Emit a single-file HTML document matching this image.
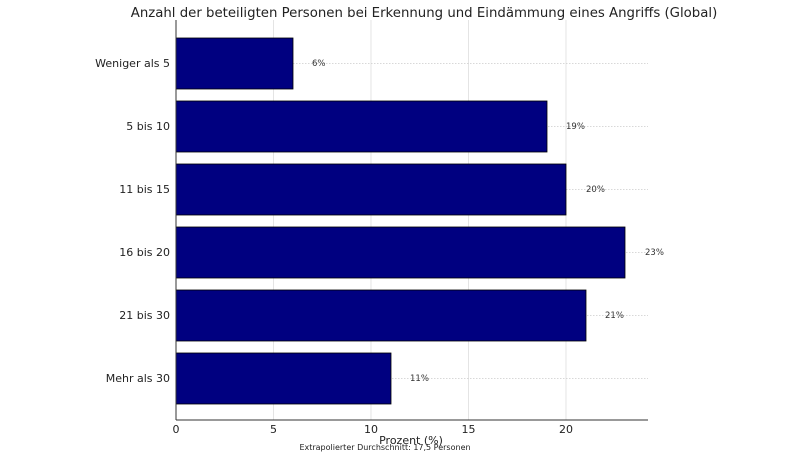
<!DOCTYPE html><html><head><style>body{margin:0;background:#fff}</style></head><body>
<svg width="800" height="457" xmlns="http://www.w3.org/2000/svg" font-family="DejaVu Sans, Liberation Sans, sans-serif">
<rect width="800" height="457" fill="#fff"/>
<text x="424" y="17" font-size="13.3" text-anchor="middle" fill="#222">Anzahl der beteiligten Personen bei Erkennung und Eindämmung eines Angriffs (Global)</text>
<g stroke="#ddd" stroke-width="0.8">
<line x1="273.5" y1="20" x2="273.5" y2="420"/><line x1="371" y1="20" x2="371" y2="420"/><line x1="468.5" y1="20" x2="468.5" y2="420"/><line x1="566" y1="20" x2="566" y2="420"/>
</g>
<g stroke="#ccc" stroke-width="0.8" stroke-dasharray="1.5,1.5">
<line x1="176" y1="63.5" x2="648" y2="63.5"/><line x1="176" y1="126.5" x2="648" y2="126.5"/><line x1="176" y1="189.5" x2="648" y2="189.5"/><line x1="176" y1="252.5" x2="648" y2="252.5"/><line x1="176" y1="315.5" x2="648" y2="315.5"/><line x1="176" y1="378.5" x2="648" y2="378.5"/>
</g>
<g fill="#000080" stroke="#000" stroke-width="0.8">
<rect x="176" y="38" width="117" height="51"/>
<rect x="176" y="101" width="371" height="51"/>
<rect x="176" y="164" width="390" height="51"/>
<rect x="176" y="227" width="449" height="51"/>
<rect x="176" y="290" width="410" height="51"/>
<rect x="176" y="353" width="215" height="51"/>
</g>
<g font-size="8.5" fill="#333">
<text x="312" y="66">6%</text><text x="566" y="129">19%</text><text x="586" y="192">20%</text><text x="645" y="255">23%</text><text x="605" y="318">21%</text><text x="410" y="381">11%</text>
</g>
<g stroke="#333" stroke-width="1"><line x1="176" y1="20" x2="176" y2="420"/><line x1="176" y1="420" x2="648" y2="420"/></g>
<g font-size="11" fill="#222" text-anchor="end">
<text x="170" y="67">Weniger als 5</text><text x="170" y="130">5 bis 10</text><text x="170" y="193">11 bis 15</text><text x="170" y="256">16 bis 20</text><text x="170" y="319">21 bis 30</text><text x="170" y="382">Mehr als 30</text>
</g>
<g font-size="11" fill="#222" text-anchor="middle">
<text x="176" y="433">0</text><text x="273.5" y="433">5</text><text x="371" y="433">10</text><text x="468.5" y="433">15</text><text x="566" y="433">20</text>
<text x="411" y="444">Prozent (%)</text>
</g>
<text x="385" y="450" font-size="8" fill="#222" text-anchor="middle">Extrapolierter Durchschnitt: 17,5 Personen</text>
</svg></body></html>
